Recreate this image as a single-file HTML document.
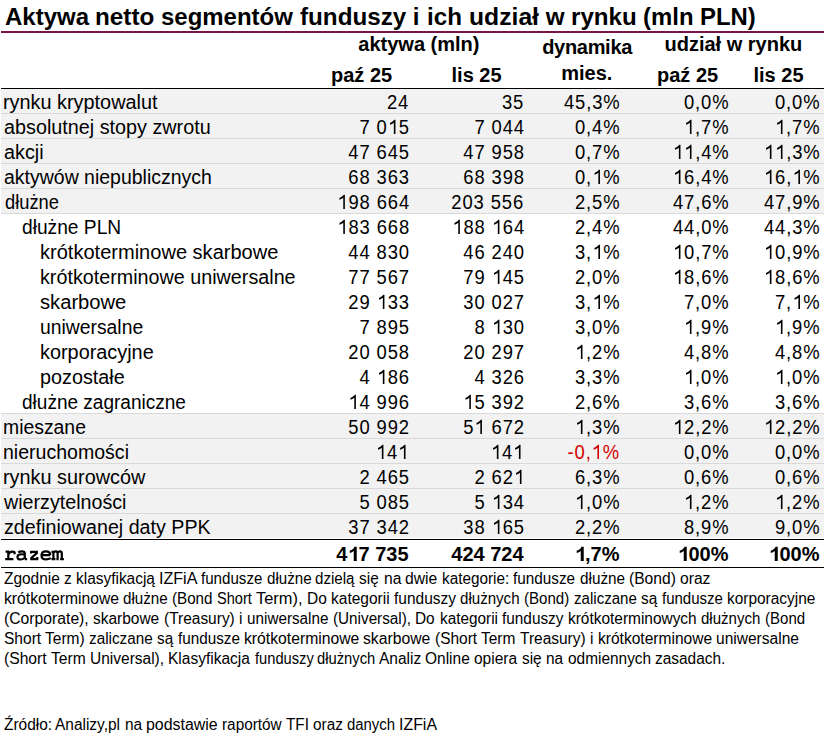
<!DOCTYPE html>
<html><head><meta charset="utf-8"><style>
*{margin:0;padding:0;box-sizing:border-box}
html,body{width:824px;height:738px;background:#fff;overflow:hidden}
body{position:relative;font-family:"Liberation Sans",sans-serif;color:#000}
.a{position:absolute;white-space:nowrap}
.t{font-size:20px;line-height:25px;height:25px}
.r{text-align:right}
.b{font-weight:bold}
.row{position:absolute;left:1px;width:823px;height:25px}
.g{background:#f2f2f2}
.sep{position:absolute;left:1px;width:823px;height:1px;background:#d9d9d9}
.bl{position:absolute;left:1px;width:823px;height:1px;background:#000}
.ft{font-size:16px;line-height:20px}
svg.one{vertical-align:baseline;fill:currentColor;overflow:visible}
.nn{display:inline-block;transform-origin:100% 0;transform:scaleX(0.92);letter-spacing:0.967px;margin-right:-0.967px}
</style></head><body>

<div class="a b" style="left:4.64px;top:2px;font-size:24.2px;line-height:30px;transform:scaleX(0.9916);transform-origin:0 0">Aktywa</div>
<div class="a b" style="left:95.25px;top:2px;font-size:24.2px;line-height:30px;transform:scaleX(1.0042);transform-origin:0 0">netto</div>
<div class="a b" style="left:161.38px;top:2px;font-size:24.2px;line-height:30px;transform:scaleX(0.9903);transform-origin:0 0">segmentów</div>
<div class="a b" style="left:299.80px;top:2px;font-size:24.2px;line-height:30px;transform:scaleX(1.0013);transform-origin:0 0">funduszy</div>
<div class="a b" style="left:412.81px;top:2px;font-size:24.2px;line-height:30px;transform:scaleX(1.0000);transform-origin:0 0">i</div>
<div class="a b" style="left:427.01px;top:2px;font-size:24.2px;line-height:30px;transform:scaleX(1.0000);transform-origin:0 0">ich</div>
<div class="a b" style="left:468.91px;top:2px;font-size:24.2px;line-height:30px;transform:scaleX(1.0210);transform-origin:0 0">udział</div>
<div class="a b" style="left:545.76px;top:2px;font-size:24.2px;line-height:30px;transform:scaleX(1.0000);transform-origin:0 0">w</div>
<div class="a b" style="left:570.87px;top:2px;font-size:24.2px;line-height:30px;transform:scaleX(0.9983);transform-origin:0 0">rynku</div>
<div class="a b" style="left:643.33px;top:2px;font-size:24.2px;line-height:30px;transform:scaleX(0.9890);transform-origin:0 0">(mln</div>
<div class="a b" style="left:700.48px;top:2px;font-size:24.2px;line-height:30px;transform:scaleX(0.9872);transform-origin:0 0">PLN)</div>
<div class="a" style="left:1px;top:31px;width:823px;height:2px;background:#761546"></div>
<div class="a b t" style="left:318.9px;top:31.9px;width:200px;text-align:center;letter-spacing:0.00px">aktywa (mln)</div>
<div class="a b t" style="left:487.1px;top:34.5px;width:200px;text-align:center;letter-spacing:-0.30px">dynamika</div>
<div class="a b t" style="left:486.8px;top:60.5px;width:200px;text-align:center;letter-spacing:0.00px">mies.</div>
<div class="a b t" style="left:633.4px;top:31.9px;width:200px;text-align:center;letter-spacing:0.00px">udział w rynku</div>
<div class="a b t" style="left:261.6px;top:62.6px;width:200px;text-align:center;letter-spacing:0.00px">paź 25</div>
<div class="a b t" style="left:376.6px;top:62.6px;width:200px;text-align:center;letter-spacing:0.00px">lis 25</div>
<div class="a b t" style="left:587.6px;top:62.6px;width:200px;text-align:center;letter-spacing:0.00px">paź 25</div>
<div class="a b t" style="left:678.5px;top:62.6px;width:200px;text-align:center;letter-spacing:0.00px">lis 25</div>
<div class="bl" style="top:88px"></div>
<div class="row g" style="top:89px;height:24px"></div>
<div class="sep" style="top:113px"></div>
<div class="a t" style="left:3.11px;top:90.0px;transform:scaleX(0.9929);transform-origin:0 0">rynku kryptowalut</div>
<div class="a t r" style="right:415.4px;top:90.0px"><span><span class="nn">24</span></span></div>
<div class="a t r" style="right:300.4px;top:90.0px"><span><span class="nn">35</span></span></div>
<div class="a t r" style="right:204.5px;top:90.0px"><span><span class="nn">45,3%</span></span></div>
<div class="a t r" style="right:95.5px;top:90.0px"><span><span class="nn">0,0%</span></span></div>
<div class="a t r" style="right:4.5px;top:90.0px"><span><span class="nn">0,0%</span></span></div>
<div class="row g" style="top:114px;height:24px"></div>
<div class="sep" style="top:138px"></div>
<div class="a t" style="left:4.40px;top:115.0px;transform:scaleX(0.9889);transform-origin:0 0">absolutnej stopy zwrotu</div>
<div class="a t r" style="right:415.4px;top:115.0px"><span><span class="nn">7 0<svg class="one" width="12.087" height="15" viewBox="0 0 11.12 15" preserveAspectRatio="none"><path d="M7.55 15V0.68H6.55L4.7 2.55Q3.5 3.45 2.1 4.1V5.8Q4.1 5.0 5.95 3.7V15Z"/></svg>5</span></span></div>
<div class="a t r" style="right:300.4px;top:115.0px"><span><span class="nn">7 044</span></span></div>
<div class="a t r" style="right:204.5px;top:115.0px"><span><span class="nn">0,4%</span></span></div>
<div class="a t r" style="right:95.5px;top:115.0px"><span><span class="nn"><svg class="one" width="12.087" height="15" viewBox="0 0 11.12 15" preserveAspectRatio="none"><path d="M7.55 15V0.68H6.55L4.7 2.55Q3.5 3.45 2.1 4.1V5.8Q4.1 5.0 5.95 3.7V15Z"/></svg>,7%</span></span></div>
<div class="a t r" style="right:4.5px;top:115.0px"><span><span class="nn"><svg class="one" width="12.087" height="15" viewBox="0 0 11.12 15" preserveAspectRatio="none"><path d="M7.55 15V0.68H6.55L4.7 2.55Q3.5 3.45 2.1 4.1V5.8Q4.1 5.0 5.95 3.7V15Z"/></svg>,7%</span></span></div>
<div class="row g" style="top:139px;height:24px"></div>
<div class="sep" style="top:163px"></div>
<div class="a t" style="left:4.30px;top:140.0px;transform:scaleX(0.9895);transform-origin:0 0">akcji</div>
<div class="a t r" style="right:415.4px;top:140.0px"><span><span class="nn">47 645</span></span></div>
<div class="a t r" style="right:300.4px;top:140.0px"><span><span class="nn">47 958</span></span></div>
<div class="a t r" style="right:204.5px;top:140.0px"><span><span class="nn">0,7%</span></span></div>
<div class="a t r" style="right:95.5px;top:140.0px"><span><span class="nn"><svg class="one" width="12.087" height="15" viewBox="0 0 11.12 15" preserveAspectRatio="none"><path d="M7.55 15V0.68H6.55L4.7 2.55Q3.5 3.45 2.1 4.1V5.8Q4.1 5.0 5.95 3.7V15Z"/></svg><svg class="one" width="12.087" height="15" viewBox="0 0 11.12 15" preserveAspectRatio="none"><path d="M7.55 15V0.68H6.55L4.7 2.55Q3.5 3.45 2.1 4.1V5.8Q4.1 5.0 5.95 3.7V15Z"/></svg>,4%</span></span></div>
<div class="a t r" style="right:4.5px;top:140.0px"><span><span class="nn"><svg class="one" width="12.087" height="15" viewBox="0 0 11.12 15" preserveAspectRatio="none"><path d="M7.55 15V0.68H6.55L4.7 2.55Q3.5 3.45 2.1 4.1V5.8Q4.1 5.0 5.95 3.7V15Z"/></svg><svg class="one" width="12.087" height="15" viewBox="0 0 11.12 15" preserveAspectRatio="none"><path d="M7.55 15V0.68H6.55L4.7 2.55Q3.5 3.45 2.1 4.1V5.8Q4.1 5.0 5.95 3.7V15Z"/></svg>,3%</span></span></div>
<div class="row g" style="top:164px;height:24px"></div>
<div class="sep" style="top:188px"></div>
<div class="a t" style="left:4.31px;top:165.0px;transform:scaleX(0.9741);transform-origin:0 0">aktywów niepublicznych</div>
<div class="a t r" style="right:415.4px;top:165.0px"><span><span class="nn">68 363</span></span></div>
<div class="a t r" style="right:300.4px;top:165.0px"><span><span class="nn">68 398</span></span></div>
<div class="a t r" style="right:204.5px;top:165.0px"><span><span class="nn">0,<svg class="one" width="12.087" height="15" viewBox="0 0 11.12 15" preserveAspectRatio="none"><path d="M7.55 15V0.68H6.55L4.7 2.55Q3.5 3.45 2.1 4.1V5.8Q4.1 5.0 5.95 3.7V15Z"/></svg>%</span></span></div>
<div class="a t r" style="right:95.5px;top:165.0px"><span><span class="nn"><svg class="one" width="12.087" height="15" viewBox="0 0 11.12 15" preserveAspectRatio="none"><path d="M7.55 15V0.68H6.55L4.7 2.55Q3.5 3.45 2.1 4.1V5.8Q4.1 5.0 5.95 3.7V15Z"/></svg>6,4%</span></span></div>
<div class="a t r" style="right:4.5px;top:165.0px"><span><span class="nn"><svg class="one" width="12.087" height="15" viewBox="0 0 11.12 15" preserveAspectRatio="none"><path d="M7.55 15V0.68H6.55L4.7 2.55Q3.5 3.45 2.1 4.1V5.8Q4.1 5.0 5.95 3.7V15Z"/></svg>6,<svg class="one" width="12.087" height="15" viewBox="0 0 11.12 15" preserveAspectRatio="none"><path d="M7.55 15V0.68H6.55L4.7 2.55Q3.5 3.45 2.1 4.1V5.8Q4.1 5.0 5.95 3.7V15Z"/></svg>%</span></span></div>
<div class="row g" style="top:189px;height:24px"></div>
<div class="sep" style="top:213px"></div>
<div class="a t" style="left:4.73px;top:190.0px;transform:scaleX(0.9155);transform-origin:0 0">dłużne</div>
<div class="a t r" style="right:415.4px;top:190.0px"><span><span class="nn"><svg class="one" width="12.087" height="15" viewBox="0 0 11.12 15" preserveAspectRatio="none"><path d="M7.55 15V0.68H6.55L4.7 2.55Q3.5 3.45 2.1 4.1V5.8Q4.1 5.0 5.95 3.7V15Z"/></svg>98 664</span></span></div>
<div class="a t r" style="right:300.4px;top:190.0px"><span><span class="nn">203 556</span></span></div>
<div class="a t r" style="right:204.5px;top:190.0px"><span><span class="nn">2,5%</span></span></div>
<div class="a t r" style="right:95.5px;top:190.0px"><span><span class="nn">47,6%</span></span></div>
<div class="a t r" style="right:4.5px;top:190.0px"><span><span class="nn">47,9%</span></span></div>
<div class="a t" style="left:21.94px;top:215.0px;transform:scaleX(0.9592);transform-origin:0 0">dłużne PLN</div>
<div class="a t r" style="right:415.4px;top:215.0px"><span><span class="nn"><svg class="one" width="12.087" height="15" viewBox="0 0 11.12 15" preserveAspectRatio="none"><path d="M7.55 15V0.68H6.55L4.7 2.55Q3.5 3.45 2.1 4.1V5.8Q4.1 5.0 5.95 3.7V15Z"/></svg>83 668</span></span></div>
<div class="a t r" style="right:300.4px;top:215.0px"><span><span class="nn"><svg class="one" width="12.087" height="15" viewBox="0 0 11.12 15" preserveAspectRatio="none"><path d="M7.55 15V0.68H6.55L4.7 2.55Q3.5 3.45 2.1 4.1V5.8Q4.1 5.0 5.95 3.7V15Z"/></svg>88 <svg class="one" width="12.087" height="15" viewBox="0 0 11.12 15" preserveAspectRatio="none"><path d="M7.55 15V0.68H6.55L4.7 2.55Q3.5 3.45 2.1 4.1V5.8Q4.1 5.0 5.95 3.7V15Z"/></svg>64</span></span></div>
<div class="a t r" style="right:204.5px;top:215.0px"><span><span class="nn">2,4%</span></span></div>
<div class="a t r" style="right:95.5px;top:215.0px"><span><span class="nn">44,0%</span></span></div>
<div class="a t r" style="right:4.5px;top:215.0px"><span><span class="nn">44,3%</span></span></div>
<div class="a t" style="left:39.60px;top:240.0px;transform:scaleX(1.0021);transform-origin:0 0">krótkoterminowe skarbowe</div>
<div class="a t r" style="right:415.4px;top:240.0px"><span><span class="nn">44 830</span></span></div>
<div class="a t r" style="right:300.4px;top:240.0px"><span><span class="nn">46 240</span></span></div>
<div class="a t r" style="right:204.5px;top:240.0px"><span><span class="nn">3,<svg class="one" width="12.087" height="15" viewBox="0 0 11.12 15" preserveAspectRatio="none"><path d="M7.55 15V0.68H6.55L4.7 2.55Q3.5 3.45 2.1 4.1V5.8Q4.1 5.0 5.95 3.7V15Z"/></svg>%</span></span></div>
<div class="a t r" style="right:95.5px;top:240.0px"><span><span class="nn"><svg class="one" width="12.087" height="15" viewBox="0 0 11.12 15" preserveAspectRatio="none"><path d="M7.55 15V0.68H6.55L4.7 2.55Q3.5 3.45 2.1 4.1V5.8Q4.1 5.0 5.95 3.7V15Z"/></svg>0,7%</span></span></div>
<div class="a t r" style="right:4.5px;top:240.0px"><span><span class="nn"><svg class="one" width="12.087" height="15" viewBox="0 0 11.12 15" preserveAspectRatio="none"><path d="M7.55 15V0.68H6.55L4.7 2.55Q3.5 3.45 2.1 4.1V5.8Q4.1 5.0 5.95 3.7V15Z"/></svg>0,9%</span></span></div>
<div class="a t" style="left:39.62px;top:265.0px;transform:scaleX(0.9868);transform-origin:0 0">krótkoterminowe uniwersalne</div>
<div class="a t r" style="right:415.4px;top:265.0px"><span><span class="nn">77 567</span></span></div>
<div class="a t r" style="right:300.4px;top:265.0px"><span><span class="nn">79 <svg class="one" width="12.087" height="15" viewBox="0 0 11.12 15" preserveAspectRatio="none"><path d="M7.55 15V0.68H6.55L4.7 2.55Q3.5 3.45 2.1 4.1V5.8Q4.1 5.0 5.95 3.7V15Z"/></svg>45</span></span></div>
<div class="a t r" style="right:204.5px;top:265.0px"><span><span class="nn">2,0%</span></span></div>
<div class="a t r" style="right:95.5px;top:265.0px"><span><span class="nn"><svg class="one" width="12.087" height="15" viewBox="0 0 11.12 15" preserveAspectRatio="none"><path d="M7.55 15V0.68H6.55L4.7 2.55Q3.5 3.45 2.1 4.1V5.8Q4.1 5.0 5.95 3.7V15Z"/></svg>8,6%</span></span></div>
<div class="a t r" style="right:4.5px;top:265.0px"><span><span class="nn"><svg class="one" width="12.087" height="15" viewBox="0 0 11.12 15" preserveAspectRatio="none"><path d="M7.55 15V0.68H6.55L4.7 2.55Q3.5 3.45 2.1 4.1V5.8Q4.1 5.0 5.95 3.7V15Z"/></svg>8,6%</span></span></div>
<div class="a t" style="left:39.99px;top:290.0px;transform:scaleX(1.0084);transform-origin:0 0">skarbowe</div>
<div class="a t r" style="right:415.4px;top:290.0px"><span><span class="nn">29 <svg class="one" width="12.087" height="15" viewBox="0 0 11.12 15" preserveAspectRatio="none"><path d="M7.55 15V0.68H6.55L4.7 2.55Q3.5 3.45 2.1 4.1V5.8Q4.1 5.0 5.95 3.7V15Z"/></svg>33</span></span></div>
<div class="a t r" style="right:300.4px;top:290.0px"><span><span class="nn">30 027</span></span></div>
<div class="a t r" style="right:204.5px;top:290.0px"><span><span class="nn">3,<svg class="one" width="12.087" height="15" viewBox="0 0 11.12 15" preserveAspectRatio="none"><path d="M7.55 15V0.68H6.55L4.7 2.55Q3.5 3.45 2.1 4.1V5.8Q4.1 5.0 5.95 3.7V15Z"/></svg>%</span></span></div>
<div class="a t r" style="right:95.5px;top:290.0px"><span><span class="nn">7,0%</span></span></div>
<div class="a t r" style="right:4.5px;top:290.0px"><span><span class="nn">7,<svg class="one" width="12.087" height="15" viewBox="0 0 11.12 15" preserveAspectRatio="none"><path d="M7.55 15V0.68H6.55L4.7 2.55Q3.5 3.45 2.1 4.1V5.8Q4.1 5.0 5.95 3.7V15Z"/></svg>%</span></span></div>
<div class="a t" style="left:39.55px;top:315.0px;transform:scaleX(0.9667);transform-origin:0 0">uniwersalne</div>
<div class="a t r" style="right:415.4px;top:315.0px"><span><span class="nn">7 895</span></span></div>
<div class="a t r" style="right:300.4px;top:315.0px"><span><span class="nn">8 <svg class="one" width="12.087" height="15" viewBox="0 0 11.12 15" preserveAspectRatio="none"><path d="M7.55 15V0.68H6.55L4.7 2.55Q3.5 3.45 2.1 4.1V5.8Q4.1 5.0 5.95 3.7V15Z"/></svg>30</span></span></div>
<div class="a t r" style="right:204.5px;top:315.0px"><span><span class="nn">3,0%</span></span></div>
<div class="a t r" style="right:95.5px;top:315.0px"><span><span class="nn"><svg class="one" width="12.087" height="15" viewBox="0 0 11.12 15" preserveAspectRatio="none"><path d="M7.55 15V0.68H6.55L4.7 2.55Q3.5 3.45 2.1 4.1V5.8Q4.1 5.0 5.95 3.7V15Z"/></svg>,9%</span></span></div>
<div class="a t r" style="right:4.5px;top:315.0px"><span><span class="nn"><svg class="one" width="12.087" height="15" viewBox="0 0 11.12 15" preserveAspectRatio="none"><path d="M7.55 15V0.68H6.55L4.7 2.55Q3.5 3.45 2.1 4.1V5.8Q4.1 5.0 5.95 3.7V15Z"/></svg>,9%</span></span></div>
<div class="a t" style="left:39.51px;top:340.0px;transform:scaleX(0.9929);transform-origin:0 0">korporacyjne</div>
<div class="a t r" style="right:415.4px;top:340.0px"><span><span class="nn">20 058</span></span></div>
<div class="a t r" style="right:300.4px;top:340.0px"><span><span class="nn">20 297</span></span></div>
<div class="a t r" style="right:204.5px;top:340.0px"><span><span class="nn"><svg class="one" width="12.087" height="15" viewBox="0 0 11.12 15" preserveAspectRatio="none"><path d="M7.55 15V0.68H6.55L4.7 2.55Q3.5 3.45 2.1 4.1V5.8Q4.1 5.0 5.95 3.7V15Z"/></svg>,2%</span></span></div>
<div class="a t r" style="right:95.5px;top:340.0px"><span><span class="nn">4,8%</span></span></div>
<div class="a t r" style="right:4.5px;top:340.0px"><span><span class="nn">4,8%</span></span></div>
<div class="a t" style="left:39.52px;top:365.0px;transform:scaleX(0.9892);transform-origin:0 0">pozostałe</div>
<div class="a t r" style="right:415.4px;top:365.0px"><span><span class="nn">4 <svg class="one" width="12.087" height="15" viewBox="0 0 11.12 15" preserveAspectRatio="none"><path d="M7.55 15V0.68H6.55L4.7 2.55Q3.5 3.45 2.1 4.1V5.8Q4.1 5.0 5.95 3.7V15Z"/></svg>86</span></span></div>
<div class="a t r" style="right:300.4px;top:365.0px"><span><span class="nn">4 326</span></span></div>
<div class="a t r" style="right:204.5px;top:365.0px"><span><span class="nn">3,3%</span></span></div>
<div class="a t r" style="right:95.5px;top:365.0px"><span><span class="nn"><svg class="one" width="12.087" height="15" viewBox="0 0 11.12 15" preserveAspectRatio="none"><path d="M7.55 15V0.68H6.55L4.7 2.55Q3.5 3.45 2.1 4.1V5.8Q4.1 5.0 5.95 3.7V15Z"/></svg>,0%</span></span></div>
<div class="a t r" style="right:4.5px;top:365.0px"><span><span class="nn"><svg class="one" width="12.087" height="15" viewBox="0 0 11.12 15" preserveAspectRatio="none"><path d="M7.55 15V0.68H6.55L4.7 2.55Q3.5 3.45 2.1 4.1V5.8Q4.1 5.0 5.95 3.7V15Z"/></svg>,0%</span></span></div>
<div class="a t" style="left:21.95px;top:390.0px;transform:scaleX(0.9513);transform-origin:0 0">dłużne zagraniczne</div>
<div class="a t r" style="right:415.4px;top:390.0px"><span><span class="nn"><svg class="one" width="12.087" height="15" viewBox="0 0 11.12 15" preserveAspectRatio="none"><path d="M7.55 15V0.68H6.55L4.7 2.55Q3.5 3.45 2.1 4.1V5.8Q4.1 5.0 5.95 3.7V15Z"/></svg>4 996</span></span></div>
<div class="a t r" style="right:300.4px;top:390.0px"><span><span class="nn"><svg class="one" width="12.087" height="15" viewBox="0 0 11.12 15" preserveAspectRatio="none"><path d="M7.55 15V0.68H6.55L4.7 2.55Q3.5 3.45 2.1 4.1V5.8Q4.1 5.0 5.95 3.7V15Z"/></svg>5 392</span></span></div>
<div class="a t r" style="right:204.5px;top:390.0px"><span><span class="nn">2,6%</span></span></div>
<div class="a t r" style="right:95.5px;top:390.0px"><span><span class="nn">3,6%</span></span></div>
<div class="a t r" style="right:4.5px;top:390.0px"><span><span class="nn">3,6%</span></span></div>
<div class="row g" style="top:414px;height:24px"></div>
<div class="sep" style="top:438px"></div>
<div class="sep" style="top:413px"></div>
<div class="a t" style="left:3.14px;top:415.0px;transform:scaleX(0.9687);transform-origin:0 0">mieszane</div>
<div class="a t r" style="right:415.4px;top:415.0px"><span><span class="nn">50 992</span></span></div>
<div class="a t r" style="right:300.4px;top:415.0px"><span><span class="nn">5<svg class="one" width="12.087" height="15" viewBox="0 0 11.12 15" preserveAspectRatio="none"><path d="M7.55 15V0.68H6.55L4.7 2.55Q3.5 3.45 2.1 4.1V5.8Q4.1 5.0 5.95 3.7V15Z"/></svg> 672</span></span></div>
<div class="a t r" style="right:204.5px;top:415.0px"><span><span class="nn"><svg class="one" width="12.087" height="15" viewBox="0 0 11.12 15" preserveAspectRatio="none"><path d="M7.55 15V0.68H6.55L4.7 2.55Q3.5 3.45 2.1 4.1V5.8Q4.1 5.0 5.95 3.7V15Z"/></svg>,3%</span></span></div>
<div class="a t r" style="right:95.5px;top:415.0px"><span><span class="nn"><svg class="one" width="12.087" height="15" viewBox="0 0 11.12 15" preserveAspectRatio="none"><path d="M7.55 15V0.68H6.55L4.7 2.55Q3.5 3.45 2.1 4.1V5.8Q4.1 5.0 5.95 3.7V15Z"/></svg>2,2%</span></span></div>
<div class="a t r" style="right:4.5px;top:415.0px"><span><span class="nn"><svg class="one" width="12.087" height="15" viewBox="0 0 11.12 15" preserveAspectRatio="none"><path d="M7.55 15V0.68H6.55L4.7 2.55Q3.5 3.45 2.1 4.1V5.8Q4.1 5.0 5.95 3.7V15Z"/></svg>2,2%</span></span></div>
<div class="row g" style="top:439px;height:24px"></div>
<div class="sep" style="top:463px"></div>
<div class="a t" style="left:3.13px;top:440.0px;transform:scaleX(0.9770);transform-origin:0 0">nieruchomości</div>
<div class="a t r" style="right:415.4px;top:440.0px"><span><span class="nn"><svg class="one" width="12.087" height="15" viewBox="0 0 11.12 15" preserveAspectRatio="none"><path d="M7.55 15V0.68H6.55L4.7 2.55Q3.5 3.45 2.1 4.1V5.8Q4.1 5.0 5.95 3.7V15Z"/></svg>4<svg class="one" width="12.087" height="15" viewBox="0 0 11.12 15" preserveAspectRatio="none"><path d="M7.55 15V0.68H6.55L4.7 2.55Q3.5 3.45 2.1 4.1V5.8Q4.1 5.0 5.95 3.7V15Z"/></svg></span></span></div>
<div class="a t r" style="right:300.4px;top:440.0px"><span><span class="nn"><svg class="one" width="12.087" height="15" viewBox="0 0 11.12 15" preserveAspectRatio="none"><path d="M7.55 15V0.68H6.55L4.7 2.55Q3.5 3.45 2.1 4.1V5.8Q4.1 5.0 5.95 3.7V15Z"/></svg>4<svg class="one" width="12.087" height="15" viewBox="0 0 11.12 15" preserveAspectRatio="none"><path d="M7.55 15V0.68H6.55L4.7 2.55Q3.5 3.45 2.1 4.1V5.8Q4.1 5.0 5.95 3.7V15Z"/></svg></span></span></div>
<div class="a t r" style="right:204.5px;top:440.0px"><span style="color:#d40000"><span class="nn">-0,<svg class="one" width="12.087" height="15" viewBox="0 0 11.12 15" preserveAspectRatio="none"><path d="M7.55 15V0.68H6.55L4.7 2.55Q3.5 3.45 2.1 4.1V5.8Q4.1 5.0 5.95 3.7V15Z"/></svg>%</span></span></div>
<div class="a t r" style="right:95.5px;top:440.0px"><span><span class="nn">0,0%</span></span></div>
<div class="a t r" style="right:4.5px;top:440.0px"><span><span class="nn">0,0%</span></span></div>
<div class="row g" style="top:464px;height:24px"></div>
<div class="sep" style="top:488px"></div>
<div class="a t" style="left:3.11px;top:465.0px;transform:scaleX(0.9930);transform-origin:0 0">rynku surowców</div>
<div class="a t r" style="right:415.4px;top:465.0px"><span><span class="nn">2 465</span></span></div>
<div class="a t r" style="right:300.4px;top:465.0px"><span><span class="nn">2 62<svg class="one" width="12.087" height="15" viewBox="0 0 11.12 15" preserveAspectRatio="none"><path d="M7.55 15V0.68H6.55L4.7 2.55Q3.5 3.45 2.1 4.1V5.8Q4.1 5.0 5.95 3.7V15Z"/></svg></span></span></div>
<div class="a t r" style="right:204.5px;top:465.0px"><span><span class="nn">6,3%</span></span></div>
<div class="a t r" style="right:95.5px;top:465.0px"><span><span class="nn">0,6%</span></span></div>
<div class="a t r" style="right:4.5px;top:465.0px"><span><span class="nn">0,6%</span></span></div>
<div class="row g" style="top:489px;height:24px"></div>
<div class="sep" style="top:513px"></div>
<div class="a t" style="left:4.11px;top:490.0px;transform:scaleX(0.9837);transform-origin:0 0">wierzytelności</div>
<div class="a t r" style="right:415.4px;top:490.0px"><span><span class="nn">5 085</span></span></div>
<div class="a t r" style="right:300.4px;top:490.0px"><span><span class="nn">5 <svg class="one" width="12.087" height="15" viewBox="0 0 11.12 15" preserveAspectRatio="none"><path d="M7.55 15V0.68H6.55L4.7 2.55Q3.5 3.45 2.1 4.1V5.8Q4.1 5.0 5.95 3.7V15Z"/></svg>34</span></span></div>
<div class="a t r" style="right:204.5px;top:490.0px"><span><span class="nn"><svg class="one" width="12.087" height="15" viewBox="0 0 11.12 15" preserveAspectRatio="none"><path d="M7.55 15V0.68H6.55L4.7 2.55Q3.5 3.45 2.1 4.1V5.8Q4.1 5.0 5.95 3.7V15Z"/></svg>,0%</span></span></div>
<div class="a t r" style="right:95.5px;top:490.0px"><span><span class="nn"><svg class="one" width="12.087" height="15" viewBox="0 0 11.12 15" preserveAspectRatio="none"><path d="M7.55 15V0.68H6.55L4.7 2.55Q3.5 3.45 2.1 4.1V5.8Q4.1 5.0 5.95 3.7V15Z"/></svg>,2%</span></span></div>
<div class="a t r" style="right:4.5px;top:490.0px"><span><span class="nn"><svg class="one" width="12.087" height="15" viewBox="0 0 11.12 15" preserveAspectRatio="none"><path d="M7.55 15V0.68H6.55L4.7 2.55Q3.5 3.45 2.1 4.1V5.8Q4.1 5.0 5.95 3.7V15Z"/></svg>,2%</span></span></div>
<div class="row g" style="top:514px;height:24px"></div>
<div class="a t" style="left:4.11px;top:515.0px;transform:scaleX(0.9837);transform-origin:0 0">zdefiniowanej daty PPK</div>
<div class="a t r" style="right:415.4px;top:515.0px"><span><span class="nn">37 342</span></span></div>
<div class="a t r" style="right:300.4px;top:515.0px"><span><span class="nn">38 <svg class="one" width="12.087" height="15" viewBox="0 0 11.12 15" preserveAspectRatio="none"><path d="M7.55 15V0.68H6.55L4.7 2.55Q3.5 3.45 2.1 4.1V5.8Q4.1 5.0 5.95 3.7V15Z"/></svg>65</span></span></div>
<div class="a t r" style="right:204.5px;top:515.0px"><span><span class="nn">2,2%</span></span></div>
<div class="a t r" style="right:95.5px;top:515.0px"><span><span class="nn">8,9%</span></span></div>
<div class="a t r" style="right:4.5px;top:515.0px"><span><span class="nn">9,0%</span></span></div>
<div class="bl" style="top:539px"></div>
<svg class="a" style="left:0;top:540px" width="70" height="27" viewBox="0 540 70 27"><g fill="none" stroke="#000" stroke-width="2.2" stroke-linecap="butt" stroke-linejoin="round">
<path d="M5.6 551.7H9.2M8.3 551V559.1M5.2 559.1H13.4M8.3 554.6C9.4 552.2 10.9 551.6 12.4 551.6C13.4 551.6 14.2 551.9 14.6 552.3V554.2"/>
<path d="M18.3 552.4C19.4 551.6 20.7 551.3 22 551.3C23.7 551.3 24.8 552 24.8 553.6V559.1M24.8 559.1H27.1M24.8 554.7C23.2 554.2 21.2 554.1 19.6 554.5C18 554.9 17.3 556.1 17.5 557.5C17.8 558.9 19.1 559.5 20.6 559.5C22.1 559.5 23.6 558.8 24.8 557.7"/>
<path d="M30.2 551.9H37.9M37.5 552.4L30.7 558.6M30.2 559.1H38.2M31.1 551.1V553.6M37.3 559.8V557.1"/>
<path d="M41.6 555.1H50.3M50.3 555.1C50.3 552.8 48.6 551.3 46 551.3C43.3 551.3 41.5 553 41.5 555.4C41.5 558 43.5 559.4 46.1 559.4C47.9 559.4 49.4 558.9 50.7 558.1"/>
<path d="M51.5 551.8H53.6M53.4 551V559.1M51.4 559.1H55.4M53.4 553.1C54 551.8 54.8 551.3 55.7 551.3C57 551.3 57.6 552 57.6 553.6V559.1M56.4 559.1H58.7M57.6 553.1C58.2 551.8 59 551.3 59.9 551.3C61.2 551.3 61.8 552 61.8 553.6V559.1M60.1 559.1H63.9"/>
</g></svg>
<div class="a t r b" style="right:415.4px;top:542.0px">4<svg class="one" width="11.12" height="15" viewBox="0 0 11.12 15"><path d="M9.75 15V0.68H7.55Q6.9 2.3 5.3 3.4Q4.1 4.2 2.75 4.6V7.0Q5.0 6.3 6.75 5.0V15Z"/></svg>7 735</div>
<div class="a t r b" style="right:300.4px;top:542.0px">424 724</div>
<div class="a t r b" style="right:204.5px;top:542.0px"><svg class="one" width="11.12" height="15" viewBox="0 0 11.12 15"><path d="M9.75 15V0.68H7.55Q6.9 2.3 5.3 3.4Q4.1 4.2 2.75 4.6V7.0Q5.0 6.3 6.75 5.0V15Z"/></svg>,7%</div>
<div class="a t r b" style="right:95.5px;top:542.0px"><svg class="one" width="11.12" height="15" viewBox="0 0 11.12 15"><path d="M9.75 15V0.68H7.55Q6.9 2.3 5.3 3.4Q4.1 4.2 2.75 4.6V7.0Q5.0 6.3 6.75 5.0V15Z"/></svg>00%</div>
<div class="a t r b" style="right:4.5px;top:542.0px"><svg class="one" width="11.12" height="15" viewBox="0 0 11.12 15"><path d="M9.75 15V0.68H7.55Q6.9 2.3 5.3 3.4Q4.1 4.2 2.75 4.6V7.0Q5.0 6.3 6.75 5.0V15Z"/></svg>00%</div>
<div class="bl" style="top:567px"></div>
<div class="a ft" style="left:3.94px;top:568.7px;transform:scaleX(0.9649);transform-origin:0 0">Zgodnie</div>
<div class="a ft" style="left:64.03px;top:568.7px;transform:scaleX(0.9649);transform-origin:0 0">z</div>
<div class="a ft" style="left:76.03px;top:568.7px;transform:scaleX(0.9649);transform-origin:0 0">klasyfikacją</div>
<div class="a ft" style="left:159.20px;top:568.7px;transform:scaleX(1.0048);transform-origin:0 0">IZFiA</div>
<div class="a ft" style="left:201.19px;top:568.7px;transform:scaleX(0.9446);transform-origin:0 0">fundusze</div>
<div class="a ft" style="left:266.74px;top:568.7px;transform:scaleX(0.9446);transform-origin:0 0">dłużne</div>
<div class="a ft" style="left:315.48px;top:568.7px;transform:scaleX(0.9446);transform-origin:0 0">dzielą</div>
<div class="a ft" style="left:359.15px;top:568.7px;transform:scaleX(0.9641);transform-origin:0 0">się</div>
<div class="a ft" style="left:383.52px;top:568.7px;transform:scaleX(0.9786);transform-origin:0 0">na</div>
<div class="a ft" style="left:405.29px;top:568.7px;transform:scaleX(0.9786);transform-origin:0 0">dwie</div>
<div class="a ft" style="left:441.86px;top:568.7px;transform:scaleX(0.9557);transform-origin:0 0">kategorie:</div>
<div class="a ft" style="left:513.27px;top:568.7px;transform:scaleX(0.9557);transform-origin:0 0">fundusze</div>
<div class="a ft" style="left:579.57px;top:568.7px;transform:scaleX(0.9557);transform-origin:0 0">dłużne</div>
<div class="a ft" style="left:628.86px;top:568.7px;transform:scaleX(0.9765);transform-origin:0 0">(Bond)</div>
<div class="a ft" style="left:680.10px;top:568.7px;transform:scaleX(0.9765);transform-origin:0 0">oraz</div>
<div class="a ft" style="left:3.93px;top:588.7px;transform:scaleX(0.9805);transform-origin:0 0">krótkoterminowe</div>
<div class="a ft" style="left:123.40px;top:588.7px;transform:scaleX(0.9485);transform-origin:0 0">dłużne</div>
<div class="a ft" style="left:172.34px;top:588.7px;transform:scaleX(0.9485);transform-origin:0 0">(Bond</div>
<div class="a ft" style="left:217.09px;top:588.7px;transform:scaleX(0.9105);transform-origin:0 0">Short</div>
<div class="a ft" style="left:255.66px;top:588.7px;transform:scaleX(1.0273);transform-origin:0 0">Term),</div>
<div class="a ft" style="left:306.86px;top:588.7px;transform:scaleX(0.9691);transform-origin:0 0">Do</div>
<div class="a ft" style="left:331.00px;top:588.7px;transform:scaleX(0.9691);transform-origin:0 0">kategorii</div>
<div class="a ft" style="left:393.92px;top:588.7px;transform:scaleX(0.9691);transform-origin:0 0">funduszy</div>
<div class="a ft" style="left:460.31px;top:588.7px;transform:scaleX(0.9427);transform-origin:0 0">dłużnych</div>
<div class="a ft" style="left:524.03px;top:588.7px;transform:scaleX(0.9427);transform-origin:0 0">(Bond)</div>
<div class="a ft" style="left:573.50px;top:588.7px;transform:scaleX(0.9427);transform-origin:0 0">zaliczane</div>
<div class="a ft" style="left:640.56px;top:588.7px;transform:scaleX(0.9610);transform-origin:0 0">są</div>
<div class="a ft" style="left:662.29px;top:588.7px;transform:scaleX(0.9380);transform-origin:0 0">fundusze</div>
<div class="a ft" style="left:727.35px;top:588.7px;transform:scaleX(0.9644);transform-origin:0 0">korporacyjne</div>
<div class="a ft" style="left:4.05px;top:608.7px;transform:scaleX(0.9823);transform-origin:0 0">(Corporate),</div>
<div class="a ft" style="left:93.15px;top:608.7px;transform:scaleX(0.9669);transform-origin:0 0">skarbowe</div>
<div class="a ft" style="left:163.66px;top:608.7px;transform:scaleX(0.9669);transform-origin:0 0">(Treasury)</div>
<div class="a ft" style="left:238.73px;top:608.7px;transform:scaleX(0.9628);transform-origin:0 0">i</div>
<div class="a ft" style="left:246.97px;top:608.7px;transform:scaleX(0.9543);transform-origin:0 0">uniwersalne</div>
<div class="a ft" style="left:332.69px;top:608.7px;transform:scaleX(0.9543);transform-origin:0 0">(Universal),</div>
<div class="a ft" style="left:414.96px;top:608.7px;transform:scaleX(0.9628);transform-origin:0 0">Do</div>
<div class="a ft" style="left:440.06px;top:608.7px;transform:scaleX(0.9594);transform-origin:0 0">kategorii</div>
<div class="a ft" style="left:502.35px;top:608.7px;transform:scaleX(0.9594);transform-origin:0 0">funduszy</div>
<div class="a ft" style="left:568.05px;top:608.7px;transform:scaleX(0.9645);transform-origin:0 0">krótkoterminowych</div>
<div class="a ft" style="left:701.01px;top:608.7px;transform:scaleX(0.9399);transform-origin:0 0">dłużnych</div>
<div class="a ft" style="left:764.55px;top:608.7px;transform:scaleX(0.9399);transform-origin:0 0">(Bond</div>
<div class="a ft" style="left:4.13px;top:628.7px;transform:scaleX(0.9705);transform-origin:0 0">Short</div>
<div class="a ft" style="left:45.26px;top:628.7px;transform:scaleX(0.9705);transform-origin:0 0">Term)</div>
<div class="a ft" style="left:89.26px;top:628.7px;transform:scaleX(0.9545);transform-origin:0 0">zaliczane</div>
<div class="a ft" style="left:157.18px;top:628.7px;transform:scaleX(0.9545);transform-origin:0 0">są</div>
<div class="a ft" style="left:177.55px;top:628.7px;transform:scaleX(0.9545);transform-origin:0 0">fundusze</div>
<div class="a ft" style="left:243.74px;top:628.7px;transform:scaleX(0.9829);transform-origin:0 0">krótkoterminowe</div>
<div class="a ft" style="left:363.48px;top:628.7px;transform:scaleX(0.9829);transform-origin:0 0">skarbowe</div>
<div class="a ft" style="left:435.17px;top:628.7px;transform:scaleX(0.9677);transform-origin:0 0">(Short</div>
<div class="a ft" style="left:481.35px;top:628.7px;transform:scaleX(0.9677);transform-origin:0 0">Term</div>
<div class="a ft" style="left:519.78px;top:628.7px;transform:scaleX(0.9677);transform-origin:0 0">Treasury)</div>
<div class="a ft" style="left:589.74px;top:628.7px;transform:scaleX(0.9700);transform-origin:0 0">i</div>
<div class="a ft" style="left:597.75px;top:628.7px;transform:scaleX(0.9717);transform-origin:0 0">krótkoterminowe</div>
<div class="a ft" style="left:716.13px;top:628.7px;transform:scaleX(0.9717);transform-origin:0 0">uniwersalne</div>
<div class="a ft" style="left:4.06px;top:648.7px;transform:scaleX(0.9789);transform-origin:0 0">(Short</div>
<div class="a ft" style="left:50.77px;top:648.7px;transform:scaleX(0.9789);transform-origin:0 0">Term</div>
<div class="a ft" style="left:89.94px;top:648.7px;transform:scaleX(0.9689);transform-origin:0 0">Universal),</div>
<div class="a ft" style="left:168.33px;top:648.7px;transform:scaleX(0.9689);transform-origin:0 0">Klasyfikacja</div>
<div class="a ft" style="left:254.50px;top:648.7px;transform:scaleX(0.9174);transform-origin:0 0">funduszy</div>
<div class="a ft" style="left:317.32px;top:648.7px;transform:scaleX(0.9230);transform-origin:0 0">dłużnych</div>
<div class="a ft" style="left:378.89px;top:648.7px;transform:scaleX(0.9675);transform-origin:0 0">Analiz</div>
<div class="a ft" style="left:425.35px;top:648.7px;transform:scaleX(0.9675);transform-origin:0 0">Online</div>
<div class="a ft" style="left:474.41px;top:648.7px;transform:scaleX(0.9675);transform-origin:0 0">opiera</div>
<div class="a ft" style="left:521.75px;top:648.7px;transform:scaleX(0.9609);transform-origin:0 0">się</div>
<div class="a ft" style="left:545.83px;top:648.7px;transform:scaleX(0.9609);transform-origin:0 0">na</div>
<div class="a ft" style="left:567.89px;top:648.7px;transform:scaleX(0.9636);transform-origin:0 0">odmiennych</div>
<div class="a ft" style="left:655.32px;top:648.7px;transform:scaleX(0.9636);transform-origin:0 0">zasadach.</div>
<div class="a ft" style="left:3.84px;top:714.7px;transform:scaleX(0.9656);transform-origin:0 0">Źródło:</div>
<div class="a ft" style="left:55.37px;top:714.7px;transform:scaleX(0.9656);transform-origin:0 0">Analizy,pl</div>
<div class="a ft" style="left:124.64px;top:714.7px;transform:scaleX(0.9664);transform-origin:0 0">na</div>
<div class="a ft" style="left:146.03px;top:714.7px;transform:scaleX(0.9945);transform-origin:0 0">podstawie</div>
<div class="a ft" style="left:222.14px;top:714.7px;transform:scaleX(0.9590);transform-origin:0 0">raportów</div>
<div class="a ft" style="left:285.83px;top:714.7px;transform:scaleX(0.9590);transform-origin:0 0">TFI</div>
<div class="a ft" style="left:313.10px;top:714.7px;transform:scaleX(0.9590);transform-origin:0 0">oraz</div>
<div class="a ft" style="left:347.22px;top:714.7px;transform:scaleX(0.9309);transform-origin:0 0">danych</div>
<div class="a ft" style="left:399.30px;top:714.7px;transform:scaleX(0.9947);transform-origin:0 0">IZFiA</div>
</body></html>
